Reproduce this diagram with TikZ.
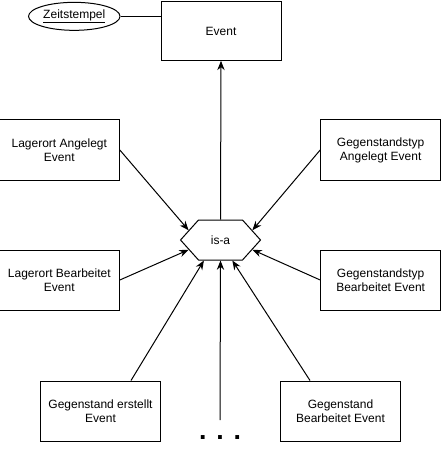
\documentclass[tikz,border=0pt]{standalone}
\usepackage{fontspec}
\setmainfont{Liberation Sans}
\usetikzlibrary{arrows.meta, positioning, shapes.geometric, shapes.symbols}

\begin{document}
\begin{tikzpicture}[
    x=0.75pt, y=-0.75pt,
    font=\fontsize{9}{10.5}\selectfont,
    >={Stealth[length=7pt,width=5.5pt]},
    entity/.style = {rectangle, draw, line width=0.75pt, minimum width=90pt, minimum height=45pt, align=center, inner sep=2pt},
    attribute/.style = {ellipse, draw, line width=0.75pt, minimum width=67.5pt, minimum height=21pt, inner sep=1pt},
    relation/.style = {signal, signal to=west and east, signal pointer angle=96, draw, line width=0.75pt, minimum width=60pt, minimum height=30pt, inner sep=1pt},
    arrow/.style = {draw, ->, line width=0.75pt},
    link/.style = {draw, line width=0.75pt}
]
    \useasboundingbox (0,0) rectangle (441,452);

    \node [relation] (isa) at (220.5,240) {is-a};
    \node [entity, minimum height=44pt] (event) at (221,31) {Event};
    \node [attribute, left=30pt of event, yshift=11pt] (zeit) {\underline{Zeitstempel}};

    \node [entity, left=45pt of isa, yshift=67.5pt] (lagA) {Lagerort Angelegt\\Event};
    \node [entity, left=45pt of isa, yshift=-30pt] (lagB) {Lagerort Bearbeitet\\Event};
    \node [entity, right=44.25pt of isa, yshift=67.5pt] (typA) {Gegenstandstyp\\Angelegt Event};
    \node [entity, right=44.25pt of isa, yshift=-30pt] (typB) {Gegenstandstyp\\Bearbeitet Event};
    \node [entity, below=90pt of isa, xshift=-90pt] (gstE) {Gegenstand erstellt\\Event};
    \node [entity, below=90pt of isa, xshift=90pt] (gstB) {Gegenstand\\Bearbeitet Event};

    \coordinate (tail) at (220,420);
    \node [font=\fontsize{20}{24}\selectfont\bfseries, anchor=base] (more) at (220,439) {. . .};

    \draw [link] (zeit) -- (zeit -| event.west);
    \draw [arrow] (isa.north) -- (event.south);
    \draw [arrow] (lagA.east) -- (isa.163);
    \draw [arrow] (lagB.east) -- (isa.-163);
    \draw [arrow] (typA.west) -- (isa.17);
    \draw [arrow] (typB.west) -- (isa.-17);
    \draw [arrow] (gstE.45) -- (isa.-129);
    \draw [arrow] (gstB.135) -- (isa.-60);
    \draw [arrow] (tail) -- (isa.south);
\end{tikzpicture}
\end{document}
